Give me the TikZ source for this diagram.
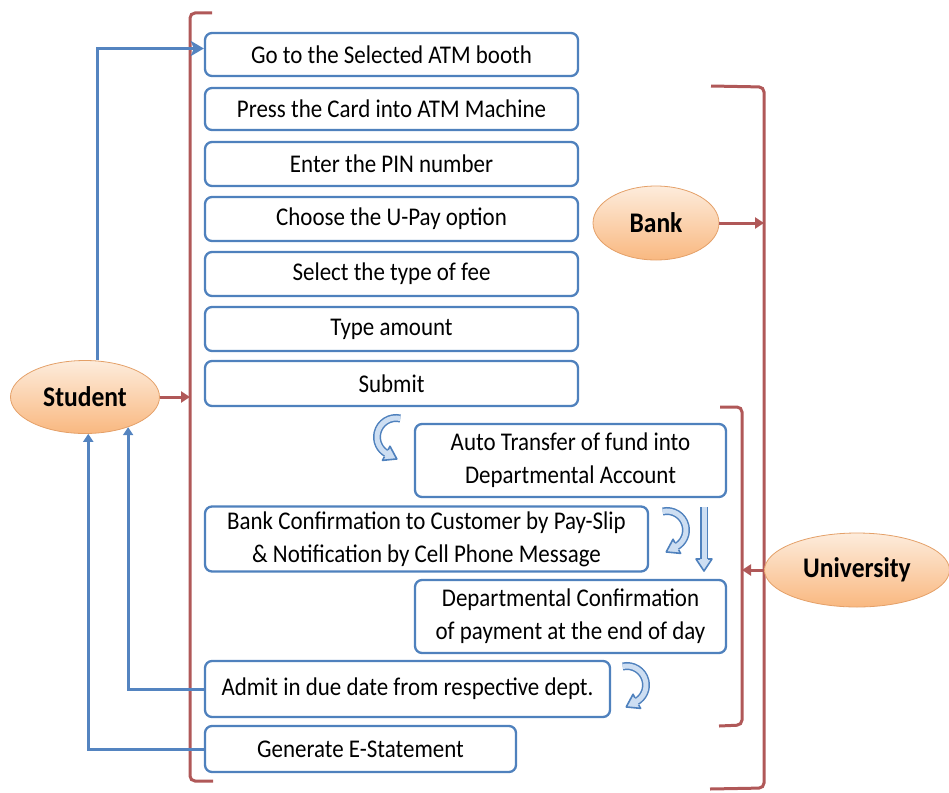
\documentclass[tikz,border=0pt]{standalone}
\usepackage{fontspec}
\setmainfont{Carlito}[FakeStretch=0.9]
\usetikzlibrary{arrows.meta,shapes.geometric,decorations.markings}

\definecolor{boxblue}{RGB}{79,129,189}
\definecolor{linkblue}{RGB}{84,132,192}
\definecolor{brk}{RGB}{176,88,88}
\definecolor{arrowfill}{RGB}{205,222,242}
\definecolor{ovaltop}{RGB}{253,236,220}
\definecolor{ovalbot}{RGB}{249,184,128}
\definecolor{ovaledge}{RGB}{228,160,104}

% curved / straight block arrow: outlined shaft with a light core and a head
\newcommand\blockarrow[1]{%
  \draw[boxblue, line width=8pt] #1;
  \draw[arrowfill, line width=5pt] #1;
  \path[headmark] #1;
}

\begin{document}
\begin{tikzpicture}[x=1pt,y=-1pt,
  stepbox/.style={draw=boxblue, line width=2.3pt, rounded corners=7pt, fill=white,
    align=center, inner sep=0pt, font=\fontsize{25.5}{33}\selectfont},
  oval/.style={ellipse, draw=ovaledge, line width=0.8pt, top color=ovaltop,
    bottom color=ovalbot, inner sep=0pt, font=\bfseries\fontsize{28.4}{32}\selectfont},
  bracket/.style={draw=brk, line width=3pt, rounded corners=5pt},
  redarrow/.style={draw=brk, line width=3pt, -{Triangle[length=9pt,width=11pt]}},
  bluelink/.style={draw=linkblue, line width=3pt},
  headmark/.style={postaction={decorate}, decoration={markings, mark=at position 1 with {
      \fill[arrowfill] (-1,-8) -- (11,0) -- (-1,8) -- cycle;
      \draw[boxblue, line width=1.6pt, line join=round]
        (-1,-4) -- (-1,-8) -- (11,0) -- (-1,8) -- (-1,4);}}}
]
\useasboundingbox (0,0) rectangle (949,792);

% ---------- brackets ----------
\draw[bracket] (212,13) -- (190,13) -- (190,781) -- (213,781);
\draw[bracket] (711,86) -- (764,87) -- (764,788) -- (710,789);
\draw[bracket] (720,407) -- (742,407) -- (742,725) -- (719,726);
\coordinate (lbr) at (190,397);
\coordinate (bbr) at (764,223);
\coordinate (ubr) at (742,570);

% ---------- steps ----------
\node[stepbox, minimum width=373pt, minimum height=43pt] (b1) at (391.5,54.5) {Go to the Selected ATM booth};
\node[stepbox, minimum width=373pt, minimum height=42pt] (b2) at (391.5,109) {Press the Card into ATM Machine};
\node[stepbox, minimum width=373pt, minimum height=44pt] (b3) at (391.5,164) {Enter the PIN number};
\node[stepbox, minimum width=373pt, minimum height=44pt] (b4) at (391.5,219) {Choose the U-Pay option};
\node[stepbox, minimum width=373pt, minimum height=44pt] (b5) at (391.5,274) {Select the type of fee};
\node[stepbox, minimum width=373pt, minimum height=44pt] (b6) at (391.5,329) {Type amount};
\node[stepbox, minimum width=373pt, minimum height=45pt] (b7) at (391.5,383.5) {Submit};
\node[stepbox, minimum width=311pt, minimum height=73pt] (b8) at (570.5,460.5) {Auto Transfer of fund into\\Departmental Account};
\node[stepbox, minimum width=443pt, minimum height=65pt] (b9) at (426.5,539) {Bank Confirmation to Customer by Pay-Slip\\\& Notification by Cell Phone Message};
\node[stepbox, minimum width=311pt, minimum height=73pt] (b10) at (570.5,616.5) {Departmental Confirmation\\of payment at the end of day};
\node[stepbox, minimum width=405pt, minimum height=56pt] (b11) at (407.5,689) {Admit in due date from respective dept.};
\node[stepbox, minimum width=311pt, minimum height=46pt] (b12) at (360.5,749) {Generate E-Statement};

% ---------- actors ----------
\node[oval, minimum width=149pt, minimum height=73pt] (student) at (85,397) {Student};
\node[oval, minimum width=126pt, minimum height=74pt] (bank) at (656,223) {Bank};
\node[oval, minimum width=185pt, minimum height=74pt] (uni) at (857,570) {University};

% ---------- connectors ----------
\draw[bluelink, -{Stealth[length=13pt,width=15pt,inset=3pt]}]
  ([xshift=12pt]student.north) |- ([yshift=6pt]b1.west);
\draw[bluelink, -{Triangle[length=8pt,width=10pt]}] (b11.west) -| (student.-35);
\draw[bluelink, -{Triangle[length=8pt,width=10pt]}] (b12.west) -| (student.-85);

\draw[redarrow] (student.east) -- (lbr);
\draw[redarrow] (bank.east) -- (bbr);
\draw[redarrow] (uni.west) -- (ubr);

% ---------- flow arrows ----------
\blockarrow{(396,437) ++(283:19) arc[start angle=283, end angle=118, radius=19]}
\blockarrow{(667,530) ++(257:19) arc[start angle=257, end angle=422, radius=19]}
\blockarrow{(627,685) ++(257:19) arc[start angle=257, end angle=422, radius=19]}
\blockarrow{(704,507) -- (704,560)}

\end{tikzpicture}
\end{document}
